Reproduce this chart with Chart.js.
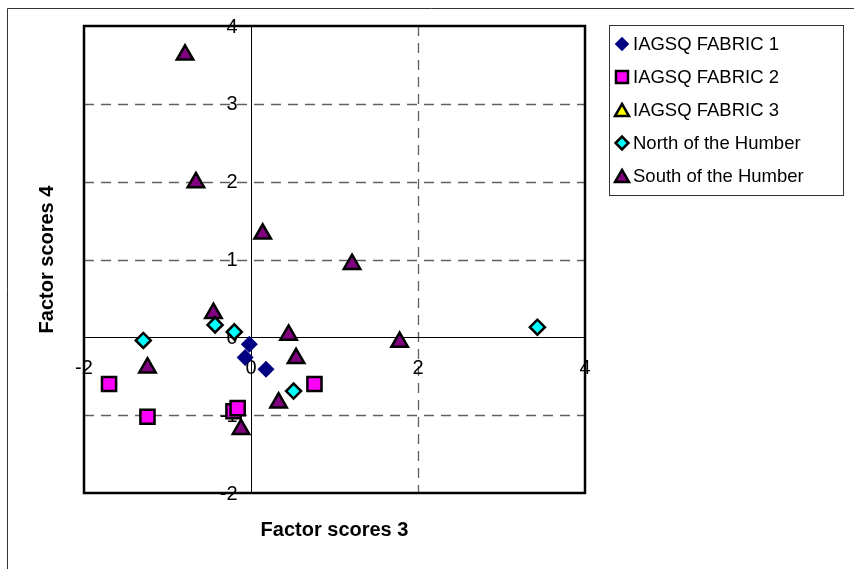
<!DOCTYPE html>
<html>
<head>
<meta charset="utf-8">
<title>Factor scores 3 vs 4</title>
<script src="https://cdn.jsdelivr.net/npm/chart.js@4"></script>
<style>
  html, body { margin: 0; padding: 0; background: #fff; }
  #wrap { position: relative; width: 854px; height: 569px; }
</style>
</head>
<body>
<div id="wrap"><canvas id="chart"></canvas></div>
<script>
// series values
const fabric1X = [-0.02, -0.07, 0.18];
const fabric1Y = [-0.09, -0.26, -0.41];
const fabric2X = [-1.70, -1.24, -0.21, -0.16, 0.76];
const fabric2Y = [-0.60, -1.02, -0.95, -0.91, -0.60];
const fabric3X = [];
const fabric3Y = [];
const northX = [-1.29, -0.43, -0.20, 0.51, 3.43];
const northY = [-0.04, 0.16, 0.07, -0.69, 0.13];
const southX = [-0.79, -0.66, 0.14, 1.21, -0.45, 0.45, 0.54, 1.78, -1.24, 0.33, -0.12];
const southY = [3.63, 1.99, 1.33, 0.94, 0.31, 0.03, -0.27, -0.06, -0.39, -0.84, -1.18];

const seriesNames = ['IAGSQ FABRIC 1', 'IAGSQ FABRIC 2', 'IAGSQ FABRIC 3',
  'North of the Humber', 'South of the Humber'];
const xTicks = [-2, 0, 2, 4];
const yTicks = [-2, -1, 0, 1, 2, 3, 4];
const xTitle = 'Factor scores 3';
const yTitle = 'Factor scores 4';

const FONT = '"Liberation Sans", Arial, sans-serif';

function pts(xs, ys) {
  return xs.map((x, i) => ({ x: x, y: ys[i] }));
}

const styles = [
  { pointStyle: 'rectRot', pointRadius: 8.5, backgroundColor: '#000080', borderColor: '#000080', borderWidth: 0 },
  { pointStyle: 'rect', pointRadius: 10, backgroundColor: '#FF00FF', borderColor: '#000000', borderWidth: 2.5 },
  { pointStyle: 'triangle', pointRadius: 9.5, backgroundColor: '#FFFF00', borderColor: '#000000', borderWidth: 2.5 },
  { pointStyle: 'rectRot', pointRadius: 7.5, backgroundColor: '#00FFFF', borderColor: '#000000', borderWidth: 2.5 },
  { pointStyle: 'triangle', pointRadius: 9.5, backgroundColor: '#800080', borderColor: '#000000', borderWidth: 2.5 }
];

const allData = [
  pts(fabric1X, fabric1Y),
  pts(fabric2X, fabric2Y),
  pts(fabric3X, fabric3Y),
  pts(northX, northY),
  pts(southX, southY)
];

const datasets = seriesNames.map((name, i) => Object.assign({
  label: name,
  data: allData[i],
  pointHoverRadius: styles[i].pointRadius,
  pointBorderWidth: styles[i].borderWidth
}, styles[i]));

// gridlines, zero axes, tick labels and frame, drawn from the chart's scales
const decor = {
  id: 'decor',
  beforeDatasetsDraw(chart) {
    const { ctx, chartArea: a, scales: { x, y } } = chart;
    ctx.save();

    // outer chart frame (runs off the right and bottom edges)
    ctx.strokeStyle = '#333';
    ctx.lineWidth = 1;
    ctx.beginPath();
    ctx.moveTo(7.5, chart.height + 2);
    ctx.lineTo(7.5, 8.5);
    ctx.lineTo(chart.width + 2, 8.5);
    ctx.stroke();

    // dashed gridlines
    ctx.setLineDash([10, 7]);
    ctx.strokeStyle = '#606060';
    ctx.lineWidth = 1.3;
    yTicks.forEach(v => {
      if (v === 0 || v === y.min || v === y.max) return;
      const py = Math.round(y.getPixelForValue(v)) + 0.5;
      ctx.beginPath(); ctx.moveTo(a.left, py); ctx.lineTo(a.right, py); ctx.stroke();
    });
    xTicks.forEach(v => {
      if (v === 0 || v === x.min || v === x.max) return;
      const px = Math.round(x.getPixelForValue(v)) + 0.5;
      ctx.beginPath(); ctx.moveTo(px, a.top); ctx.lineTo(px, a.bottom); ctx.stroke();
    });
    ctx.setLineDash([]);

    // axes through zero
    const x0 = Math.round(x.getPixelForValue(0)) + 0.5;
    const y0 = Math.round(y.getPixelForValue(0)) + 0.5;
    ctx.strokeStyle = '#000';
    ctx.lineWidth = 1;
    ctx.beginPath(); ctx.moveTo(a.left, y0); ctx.lineTo(a.right, y0); ctx.stroke();
    ctx.beginPath(); ctx.moveTo(x0, a.top); ctx.lineTo(x0, a.bottom); ctx.stroke();

    // tick labels next to the axes
    ctx.fillStyle = '#000';
    ctx.font = '20px ' + FONT;
    ctx.textAlign = 'right';
    ctx.textBaseline = 'middle';
    yTicks.forEach(v => {
      ctx.fillText(String(v), x0 - 14, y.getPixelForValue(v) + 1);
    });
    ctx.textAlign = 'center';
    xTicks.forEach(v => {
      ctx.fillText(String(v), x.getPixelForValue(v), y0 + 31);
    });

    // plot area border
    ctx.lineWidth = 2.5;
    ctx.strokeRect(a.left, a.top, a.right - a.left, a.bottom - a.top);
    ctx.restore();
  },
  afterDraw(chart) {
    const { ctx, chartArea: a } = chart;
    ctx.save();
    ctx.fillStyle = '#000';
    ctx.font = 'bold 20px ' + FONT;
    ctx.textAlign = 'center';
    ctx.textBaseline = 'middle';
    ctx.fillText(xTitle, (a.left + a.right) / 2, 530);
    ctx.translate(47, (a.top + a.bottom) / 2);
    ctx.rotate(-Math.PI / 2);
    ctx.fillText(yTitle, 0, 0);
    ctx.restore();

    // legend box
    ctx.save();
    ctx.strokeStyle = '#333';
    ctx.lineWidth = 1;
    ctx.strokeRect(609.5, 25.5, 234, 170);
    ctx.font = '18.5px ' + FONT;
    ctx.textAlign = 'left';
    ctx.textBaseline = 'middle';
    chart.data.datasets.forEach((ds, i) => {
      const cy = 44 + i * 33;
      ctx.fillStyle = ds.backgroundColor;
      ctx.strokeStyle = ds.borderColor;
      ctx.lineWidth = ds.borderWidth;
      Chart.helpers.drawPoint(ctx, {
        pointStyle: ds.pointStyle,
        radius: ds.pointRadius * 0.85,
        rotation: 0,
        borderWidth: ds.borderWidth
      }, 622, ds.pointStyle === 'triangle' ? cy + 2 : cy);
      ctx.fillStyle = '#000';
      ctx.fillText(ds.label, 633, cy + 1);
    });
    ctx.restore();
  }
};

new Chart(document.getElementById('chart'), {
  type: 'scatter',
  data: { datasets: datasets },
  options: {
    responsive: true,
    maintainAspectRatio: false,
    animation: false,
    layout: { padding: { left: 84, top: 26, right: 269, bottom: 76 } },
    scales: {
      x: { type: 'linear', min: -2, max: 4, display: false, ticks: { stepSize: 2 } },
      y: { type: 'linear', min: -2, max: 4, display: false, ticks: { stepSize: 1 } }
    },
    plugins: {
      legend: { display: false },
      tooltip: { enabled: false }
    }
  },
  plugins: [decor]
});
</script>
</body>
</html>
